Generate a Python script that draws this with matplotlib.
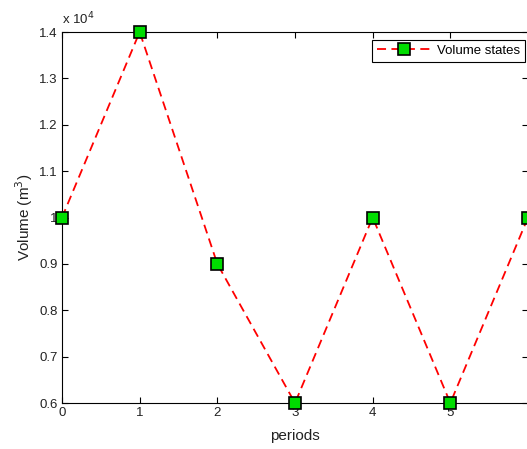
import matplotlib
matplotlib.use('Agg')
import matplotlib.pyplot as plt

# data
periods = [0, 1, 2, 3, 4, 5, 6]
volume = [10000, 14000, 9000, 6000, 10000, 6000, 10000]
xtick_labels = ['0', '1', '2', '3', '4', '5', '']  # the 6 is cut off in the source
yticks = [0.6, 0.7, 0.8, 0.9, 1.0, 1.1, 1.2, 1.3, 1.4]
ytick_labels = ['0.6', '0.7', '0.8', '0.9', '1', '1.1', '1.2', '1.3', '1.4']

plt.rcParams['font.family'] = ['Liberation Sans', 'DejaVu Sans']

fig = plt.figure(figsize=(5.27, 4.49), dpi=100)
ax = fig.add_axes([62 / 527, 1 - 403 / 449, 466 / 527, (403 - 32) / 449])

scaled = [v / 1e4 for v in volume]
ax.plot(periods, scaled, color='#ff0000', linestyle='--', linewidth=1.3,
        dashes=(5, 3), marker='s', markersize=8, markerfacecolor='#00dd00',
        markeredgecolor='black', markeredgewidth=1.2, label='Volume states',
        clip_on=False, zorder=3)

ax.set_xlim(0, 6)
ax.set_ylim(0.6, 1.4)
ax.set_xticks(periods)
ax.set_xticklabels(xtick_labels)
ax.set_yticks(yticks)
ax.set_yticklabels(ytick_labels)
ax.tick_params(direction='in', top=True, right=True, labelsize=9.5, length=4, pad=3,
               labelcolor='#222222')
for s in ax.spines.values():
    s.set_linewidth(0.8)

ax.set_xlabel('periods', fontsize=11, labelpad=7, color='#222222')
ax.set_ylabel('Volume (m$^3$)', fontsize=11, labelpad=3, color='#222222')
ax.text(0, 1.012, 'x 10$^4$', transform=ax.transAxes, fontsize=9.5, ha='left',
        va='bottom', color='#222222')

leg = ax.legend(loc='upper right', bbox_to_anchor=(463 / 466, 0.978), fontsize=9.5,
                fancybox=False, framealpha=1, edgecolor='black', borderpad=0.35,
                handlelength=4.2, handletextpad=0.4, borderaxespad=0)
leg.get_frame().set_linewidth(0.8)

fig.savefig('out.png', dpi=100)
